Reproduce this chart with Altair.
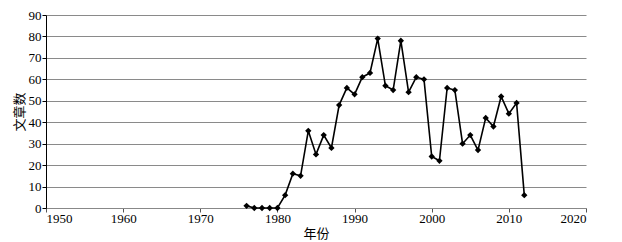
import altair as alt
import pandas as pd

years = list(range(1976, 2013))
counts = [1, 0, 0, 0, 0, 6, 16, 15, 36, 25, 34, 28, 48, 56, 53, 61, 63, 79, 57, 55,
          78, 54, 61, 60, 24, 22, 56, 55, 30, 34, 27, 42, 38, 52, 44, 49, 6]

df = pd.DataFrame({"年份": years, "文章数": counts})

SERIF = "serif"
CJK = "Noto Sans CJK SC"

x = alt.X("年份:Q", scale=alt.Scale(domain=[1950, 2020], nice=False, zero=False),
          axis=alt.Axis(values=list(range(1950, 2021, 10)), format="d", grid=False,
                        title="年份", titleFont=CJK, titleFontSize=13,
                        titleFontWeight="normal", titleColor="black", titlePadding=2,
                        labelFont=SERIF, labelFontSize=13, labelColor="black",
                        domainColor="#888888", tickColor="#555555", tickSize=4,
                        labelPadding=0))
y = alt.Y("文章数:Q", scale=alt.Scale(domain=[0, 90], nice=False),
          axis=alt.Axis(values=list(range(0, 91, 10)), grid=True, gridColor="#8a8a8a",
                        gridWidth=1.2, title="文章数", titleFont=CJK,
                        titleFontSize=13, titleFontWeight="normal", titleColor="black",
                        titlePadding=2, labelFont=SERIF, labelFontSize=13,
                        labelColor="black", domainColor="black", tickColor="black",
                        tickSize=4, labelPadding=1))

line = alt.Chart(df).mark_line(color="black", strokeWidth=1.6).encode(x=x, y=y)
pts = alt.Chart(df).mark_point(shape="diamond", filled=True, color="black", size=40,
                               opacity=1).encode(x=x, y=y)

chart = (line + pts).properties(
    width=540, height=193,
    autosize=alt.AutoSizeParams(type="none"),
    padding={"left": 38, "top": 7, "right": 28, "bottom": 40},
).configure_view(stroke=None)

chart.save("out.html", embed_options={"renderer": "svg", "actions": False})
